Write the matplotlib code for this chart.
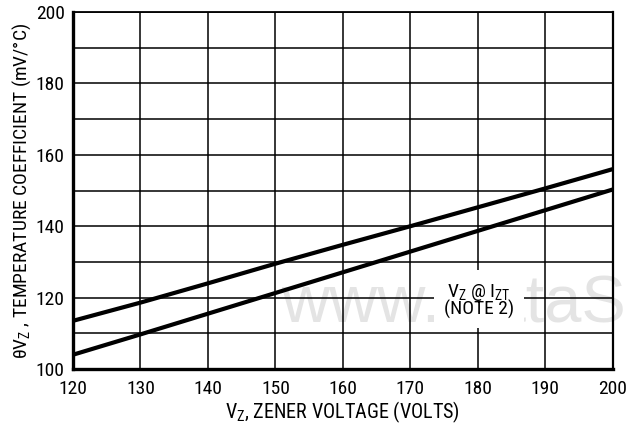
import matplotlib.pyplot as plt
from matplotlib import rcParams

rcParams['font.family'] = ['Roboto Condensed', 'Liberation Sans', 'DejaVu Sans']
rcParams['mathtext.fontset'] = 'custom'
rcParams['mathtext.rm'] = 'Roboto Condensed'

# zener voltage (V) vs temperature coefficient (mV/°C)
vz = [120, 130, 140, 150, 160, 170, 180, 190, 200]
coef_upper = [113.5, 118.6, 124.0, 129.5, 134.8, 140.0, 145.3, 150.6, 156.0]
coef_lower = [104.0, 109.7, 115.5, 121.3, 127.1, 132.9, 138.7, 144.5, 150.3]

x_ticks = [120, 130, 140, 150, 160, 170, 180, 190, 200]
y_ticks = [100, 120, 140, 160, 180, 200]
y_grid = [110, 130, 150, 170, 190]

fig = plt.figure(figsize=(6.26, 4.38), dpi=100)
ax = fig.add_axes([0.1166, 0.1575, 0.8624, 0.8151])

# faint watermark, behind the grid
ax.text(0.385, 0.18, 'www.DataSheet4U.com', transform=ax.transAxes,
        fontsize=48, color='#e4e4e4', family=['Liberation Sans', 'DejaVu Sans'],
        va='center', ha='left', clip_on=False, zorder=1)

ax.plot(vz, coef_upper, color='black', lw=3.0, solid_capstyle='butt', zorder=4)
ax.plot(vz, coef_lower, color='black', lw=3.0, solid_capstyle='butt', zorder=4)

ax.set_xlim(120, 200)
ax.set_ylim(100, 200)
ax.set_xticks(x_ticks)
ax.set_yticks(y_ticks)
ax.set_yticks(y_grid, minor=True)
ax.grid(True, which='both', color='black', lw=1.1)
ax.tick_params(which='both', length=0, labelsize=14)
ax.tick_params(axis='x', pad=8)
ax.tick_params(axis='y', pad=6)

ax.spines['left'].set_linewidth(2.4)
ax.spines['bottom'].set_linewidth(2.4)
ax.spines['top'].set_linewidth(1.3)
ax.spines['right'].set_linewidth(1.6)

ax.text(180.2, 119.3, 'V$_\\mathregular{Z}$ @ I$_\\mathregular{ZT}$\n(NOTE 2)',
        ha='center', va='center', fontsize=14, linespacing=0.8, zorder=5,
        bbox=dict(facecolor='white', edgecolor='none', pad=7))

ax.set_xlabel('V$_\\mathregular{Z}$, ZENER VOLTAGE (VOLTS)', fontsize=14.5, labelpad=1)
ax.set_ylabel('θV$_\\mathregular{Z}$ , TEMPERATURE COEFFICIENT (mV/°C)', fontsize=14, labelpad=2)

fig.savefig('out.png', dpi=100)
